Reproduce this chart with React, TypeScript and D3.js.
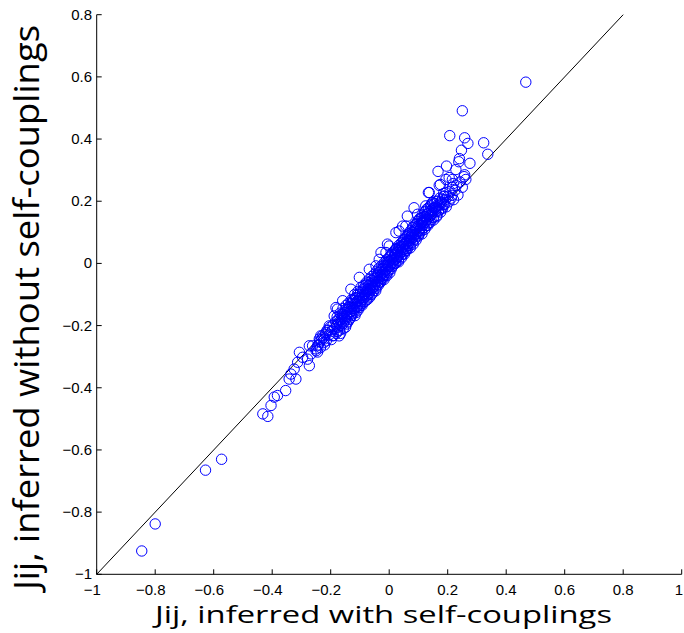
import React from "react";
import * as d3 from "d3";

const W = 684;
const H = 633;

const xTicks = [-1, -0.8, -0.6, -0.4, -0.2, 0, 0.2, 0.4, 0.6, 0.8, 1];
const yTicks = [-1, -0.8, -0.6, -0.4, -0.2, 0, 0.2, 0.4, 0.6, 0.8];
const xLabel = "Jij, inferred with self-couplings";
const yLabel = "Jij, inferred without self-couplings";

// x: Jij with self-couplings, y: Jij without self-couplings
const tailLow: [number, number][] = [
  [-0.846, -0.925], [-0.8, -0.838], [-0.628, -0.665], [-0.573, -0.63],
  [-0.432, -0.484], [-0.415, -0.492], [-0.404, -0.457], [-0.393, -0.43],
  [-0.382, -0.425], [-0.354, -0.409], [-0.342, -0.372], [-0.319, -0.372],
  [-0.336, -0.356], [-0.325, -0.34], [-0.313, -0.318], [-0.307, -0.286],
  [-0.296, -0.302], [-0.273, -0.329], [-0.279, -0.308], [-0.267, -0.291],
  [-0.273, -0.265], [-0.25, -0.281], [-0.245, -0.265], [-0.234, -0.233],
  [-0.222, -0.243], [-0.216, -0.222], [-0.205, -0.201], [-0.194, -0.233],
  [-0.188, -0.169], [-0.177, -0.147], [-0.262, -0.265], [-0.25, -0.275],
  [-0.228, -0.233], [-0.239, -0.243], [-0.171, -0.233], [-0.182, -0.142],
  [-0.159, -0.12], [-0.131, -0.083], [-0.102, -0.045], [-0.068, -0.019],
  [-0.028, 0.035], [-0.006, 0.062], [0.023, 0.099], [0.046, 0.12],
];

const tailHigh: [number, number][] = [
  [0.467, 0.583], [0.25, 0.491], [0.207, 0.411], [0.258, 0.404],
  [0.269, 0.386], [0.323, 0.388], [0.337, 0.351], [0.247, 0.364],
  [0.24, 0.337], [0.238, 0.327], [0.276, 0.322], [0.167, 0.296],
  [0.196, 0.313], [0.228, 0.302], [0.256, 0.279], [0.205, 0.276],
  [0.175, 0.254], [0.219, 0.257], [0.134, 0.228], [0.194, 0.228],
  [0.216, 0.27], [0.194, 0.27], [0.171, 0.251], [0.215, 0.219],
  [0.137, 0.228], [0.188, 0.217], [0.125, 0.185], [0.148, 0.196],
  [0.085, 0.179], [0.062, 0.152], [0.097, 0.158], [0.114, 0.131],
  [0.16, 0.174], [0.057, 0.12], [0.034, 0.104], [0.0, 0.056],
  [-0.011, 0.035], [0.023, 0.046], [-0.034, 0.013], [-0.045, -0.008],
];

const band: [number, number][] = [
  [-0.242, -0.262], [-0.238, -0.25], [-0.235, -0.271], [-0.232, -0.245], [-0.245, -0.285],
  [-0.225, -0.238], [-0.221, -0.262], [-0.218, -0.228], [-0.215, -0.249], [-0.212, -0.215], [-0.224, -0.255],
  [-0.205, -0.23], [-0.202, -0.205], [-0.198, -0.245], [-0.196, -0.218], [-0.192, -0.198], [-0.19, -0.232], [-0.208, -0.215],
  [-0.186, -0.21], [-0.183, -0.188], [-0.181, -0.225], [-0.178, -0.172], [-0.175, -0.205], [-0.172, -0.19], [-0.17, -0.215], [-0.168, -0.16],
  [-0.165, -0.182], [-0.163, -0.2], [-0.16, -0.17], [-0.158, -0.145], [-0.156, -0.192], [-0.153, -0.178], [-0.151, -0.158], [-0.149, -0.205], [-0.147, -0.135],
  [-0.145, -0.17], [-0.143, -0.15], [-0.141, -0.188], [-0.139, -0.128], [-0.137, -0.16], [-0.134, -0.142], [-0.132, -0.175], [-0.13, -0.118], [-0.128, -0.155],
  [-0.126, -0.138], [-0.124, -0.162], [-0.122, -0.12], [-0.12, -0.145], [-0.118, -0.1], [-0.116, -0.13], [-0.113, -0.158], [-0.111, -0.112], [-0.109, -0.138], [-0.107, -0.09],
  [-0.105, -0.12], [-0.103, -0.142], [-0.101, -0.1], [-0.099, -0.128], [-0.097, -0.078], [-0.095, -0.11], [-0.093, -0.135], [-0.091, -0.092], [-0.089, -0.115], [-0.087, -0.07],
  [-0.085, -0.1], [-0.083, -0.122], [-0.081, -0.08], [-0.079, -0.105], [-0.077, -0.06], [-0.075, -0.09], [-0.073, -0.115], [-0.071, -0.072], [-0.069, -0.095], [-0.067, -0.05], [-0.065, -0.082],
  [-0.063, -0.065], [-0.061, -0.1], [-0.059, -0.042], [-0.057, -0.078], [-0.055, -0.06], [-0.053, -0.088], [-0.051, -0.035], [-0.049, -0.068], [-0.047, -0.05], [-0.045, -0.08], [-0.043, -0.025],
  [-0.041, -0.058], [-0.039, -0.038], [-0.037, -0.07], [-0.035, -0.015], [-0.033, -0.045], [-0.031, -0.028], [-0.029, -0.06], [-0.027, -0.008], [-0.025, -0.035], [-0.023, -0.05],
  [-0.021, -0.018], [-0.019, -0.04], [-0.017, 0.002], [-0.015, -0.025], [-0.013, -0.008], [-0.011, -0.038], [-0.009, 0.012], [-0.007, -0.015], [-0.005, -0.028], [-0.003, 0.005],
  [-0.001, -0.01], [0.001, 0.02], [0.003, -0.005], [0.005, 0.01], [0.007, -0.018], [0.009, 0.03], [0.011, 0.002], [0.013, 0.018], [0.015, -0.005], [0.017, 0.04],
  [0.019, 0.012], [0.021, 0.03], [0.023, 0.002], [0.025, 0.048], [0.027, 0.02], [0.029, 0.035], [0.031, 0.01], [0.033, 0.058], [0.035, 0.028], [0.037, 0.042],
  [0.039, 0.022], [0.041, 0.065], [0.043, 0.038], [0.045, 0.052], [0.047, 0.03], [0.049, 0.075], [0.051, 0.045], [0.053, 0.06], [0.055, 0.04], [0.057, 0.085],
  [0.059, 0.055], [0.061, 0.072], [0.063, 0.048], [0.065, 0.095], [0.067, 0.065], [0.069, 0.082], [0.071, 0.058], [0.073, 0.105], [0.075, 0.075], [0.077, 0.092],
  [0.079, 0.068], [0.081, 0.115], [0.083, 0.085], [0.085, 0.1], [0.087, 0.078], [0.089, 0.125], [0.091, 0.095], [0.093, 0.112], [0.095, 0.088], [0.097, 0.135],
  [0.099, 0.102], [0.101, 0.122], [0.103, 0.095], [0.105, 0.145], [0.107, 0.112], [0.109, 0.13], [0.111, 0.105], [0.113, 0.155], [0.115, 0.122], [0.117, 0.14],
  [0.119, 0.115], [0.121, 0.165], [0.123, 0.132], [0.125, 0.15], [0.127, 0.122], [0.129, 0.175], [0.131, 0.142], [0.133, 0.16], [0.135, 0.13],
  [0.139, 0.152], [0.141, 0.185], [0.143, 0.14], [0.145, 0.17], [0.147, 0.16], [0.149, 0.195], [0.151, 0.148], [0.153, 0.178],
  [0.158, 0.165], [0.161, 0.2], [0.164, 0.155], [0.167, 0.185], [0.17, 0.172], [0.173, 0.21], [0.176, 0.165],
  [0.18, 0.195], [0.183, 0.178], [0.186, 0.225], [0.189, 0.19], [0.192, 0.205], [0.195, 0.182],
  [0.2, 0.215], [0.204, 0.198], [0.208, 0.232], [0.212, 0.21], [0.216, 0.245], [0.22, 0.205],
  [0.225, 0.235], [0.23, 0.25], [0.235, 0.22], [0.242, 0.262], [0.25, 0.245], [0.258, 0.285], [0.262, 0.27],
];

const bandCore: [number, number][] = [
  [-0.18, -0.198], [-0.177, -0.218], [-0.176, -0.182],
  [-0.171, -0.178], [-0.168, -0.198], [-0.166, -0.225], [-0.165, -0.165],
  [-0.161, -0.188], [-0.159, -0.162], [-0.157, -0.21], [-0.155, -0.172],
  [-0.15, -0.182], [-0.148, -0.148], [-0.146, -0.195], [-0.144, -0.162],
  [-0.14, -0.17], [-0.138, -0.14], [-0.136, -0.18], [-0.133, -0.155],
  [-0.131, -0.13], [-0.129, -0.168], [-0.127, -0.145], [-0.125, -0.118],
  [-0.121, -0.152], [-0.119, -0.128], [-0.117, -0.168], [-0.115, -0.11],
  [-0.112, -0.142], [-0.11, -0.122], [-0.108, -0.1], [-0.106, -0.15],
  [-0.102, -0.112], [-0.1, -0.135], [-0.098, -0.092], [-0.096, -0.122],
  [-0.092, -0.102], [-0.09, -0.128], [-0.088, -0.082], [-0.086, -0.11],
  [-0.082, -0.095], [-0.08, -0.07], [-0.078, -0.118], [-0.076, -0.085],
  [-0.072, -0.1], [-0.07, -0.062], [-0.068, -0.08], [-0.066, -0.108],
  [-0.062, -0.085], [-0.06, -0.055], [-0.058, -0.07], [-0.056, -0.095],
  [-0.052, -0.075], [-0.05, -0.048], [-0.048, -0.06], [-0.046, -0.088],
  [-0.042, -0.045], [-0.04, -0.068], [-0.038, -0.03], [-0.036, -0.055],
  [-0.032, -0.06], [-0.03, -0.04], [-0.028, -0.02], [-0.026, -0.048],
  [-0.022, -0.03], [-0.02, -0.008], [-0.018, -0.052], [-0.016, -0.035],
  [-0.012, -0.02], [-0.01, 0.002], [-0.008, -0.04], [-0.006, -0.005],
  [-0.002, -0.022], [0.0, 0.008], [0.002, -0.03], [0.004, 0.025],
  [0.008, 0.012], [0.01, -0.01], [0.012, 0.035], [0.014, 0.008],
  [0.018, 0.025], [0.02, 0.0], [0.022, 0.045], [0.024, 0.015],
  [0.028, 0.04], [0.03, 0.022], [0.032, 0.005], [0.034, 0.05],
  [0.038, 0.035], [0.04, 0.055], [0.042, 0.018], [0.044, 0.068],
  [0.048, 0.045], [0.05, 0.062], [0.052, 0.03], [0.054, 0.078],
  [0.058, 0.065], [0.06, 0.042], [0.062, 0.088], [0.064, 0.058],
  [0.068, 0.072], [0.07, 0.095], [0.072, 0.05], [0.074, 0.085],
  [0.078, 0.082], [0.08, 0.102], [0.082, 0.062], [0.084, 0.12],
  [0.088, 0.092], [0.09, 0.11], [0.092, 0.075], [0.094, 0.128],
  [0.098, 0.118], [0.1, 0.088], [0.102, 0.14], [0.104, 0.108],
  [0.108, 0.122], [0.11, 0.145], [0.112, 0.095], [0.114, 0.135],
  [0.118, 0.13], [0.12, 0.15], [0.122, 0.11], [0.124, 0.168],
  [0.128, 0.14], [0.13, 0.158], [0.132, 0.122], [0.134, 0.178],
  [0.138, 0.168], [0.14, 0.132], [0.142, 0.155], [0.144, 0.19],
  [0.15, 0.165], [0.152, 0.14], [0.154, 0.192], [0.156, 0.178],
  [0.16, 0.182], [0.162, 0.15], [0.165, 0.2], [0.168, 0.168],
  [0.172, 0.188], [0.175, 0.198], [0.178, 0.175],
  [0.182, 0.205], [0.185, 0.19], [0.188, 0.215],
];

const points = [...tailLow, ...band, ...bandCore, ...tailHigh];

const fmt = (v: number) => (Math.abs(v) < 1e-9 ? "0" : String(Math.abs(v)));

export default function App() {
  const x = d3.scaleLinear().domain([-1, 1]).range([96.7, 681.7]);
  const y = d3.scaleLinear().domain([-1, 0.8]).range([574.3, 14.7]);
  const tickFont = "'Liberation Sans', Arial, Helvetica, sans-serif";
  const titleFont = "'Open Sans', 'Noto Sans', sans-serif";
  const tfs = 15;
  const digitW = (s: string) =>
    s.split("").reduce((a, c) => a + (c === "." ? 0.278 : 0.556), 0) * tfs;
  const minusW = 0.584 * tfs;
  const diag = d3.line<number>()
    .x((d) => x(d))
    .y((d) => y(d));

  return (
    <svg
      width={W}
      height={H}
      style={{ position: "absolute", left: 0, top: 0, background: "#fff" }}
    >
      <rect width={W} height={H} fill="#fff" />
      {/* axes */}
      <line x1={x(-1)} x2={x(1)} y1={y(-1)} y2={y(-1)} stroke="#000" strokeWidth={1} />
      <line x1={x(-1)} x2={x(-1)} y1={y(-1)} y2={y(0.8)} stroke="#000" strokeWidth={1} />
      {xTicks.map((t) => (
        <line key={"xt" + t} x1={x(t)} x2={x(t)} y1={y(-1)} y2={y(-1) - 5} stroke="#000" strokeWidth={1} />
      ))}
      {yTicks.map((t) => (
        <line key={"yt" + t} x1={x(-1)} x2={x(-1) + 5} y1={y(t)} y2={y(t)} stroke="#000" strokeWidth={1} />
      ))}
      {/* x tick labels: digits centered on tick, minus hanging to the left */}
      {xTicks.map((t) => {
        const d = fmt(t);
        const startX = x(t) - digitW(d) / 2 - (t < 0 ? minusW : 0);
        return (
          <text
            key={"xl" + t}
            x={Math.min(startX, W - digitW(d) - 1)}
            y={594.5}
            textAnchor="start"
            fontFamily={tickFont}
            fontSize={tfs}
            fill="#000"
          >
            {(t < 0 ? "−" : "") + d}
          </text>
        );
      })}
      {yTicks.map((t) => (
        <text
          key={"yl" + t}
          x={92}
          y={y(t) + 5}
          textAnchor="end"
          fontFamily={tickFont}
          fontSize={tfs}
          fill="#000"
        >
          {(t < 0 ? "−" : "") + fmt(t)}
        </text>
      ))}
      {/* diagonal */}
      <path d={diag([-1, 0.8]) || ""} stroke="#000" strokeWidth={1} fill="none" />
      {/* points */}
      {points.map((p, i) => (
        <circle
          key={i}
          cx={x(p[0])}
          cy={y(p[1])}
          r={5.2}
          fill="none"
          stroke="#0000ff"
          strokeWidth={1}
        />
      ))}
      {/* axis titles */}
      <text
        x={155}
        y={623}
        textAnchor="start"
        fontFamily={titleFont}
        fontSize={23}
        textLength={457}
        lengthAdjust="spacingAndGlyphs"
        fill="#000"
      >
        {xLabel}
      </text>
      <text
        transform={`translate(39, 590) rotate(-90)`}
        textAnchor="start"
        fontFamily={titleFont}
        fontSize={34}
        textLength={565}
        lengthAdjust="spacingAndGlyphs"
        fill="#000"
      >
        {yLabel}
      </text>
    </svg>
  );
}
